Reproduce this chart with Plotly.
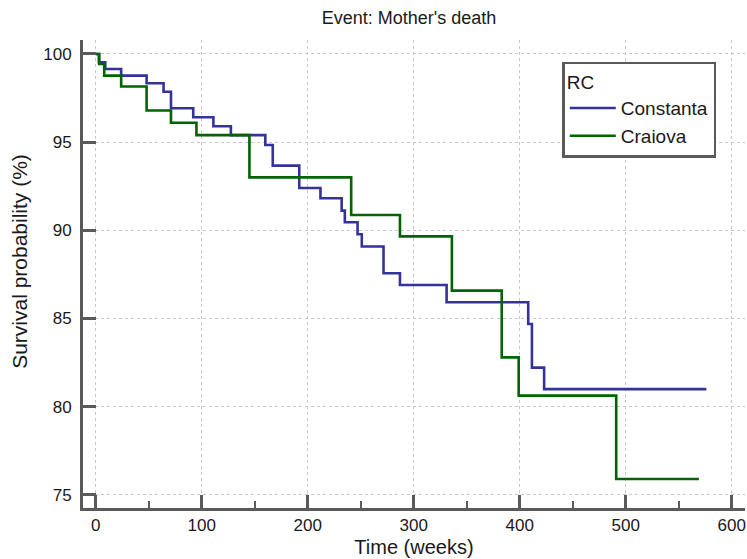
import plotly.graph_objects as go

# Kaplan-Meier step data (time in weeks, survival %)
constanta_time = [0, 3, 9, 24, 48, 64, 71, 92, 111, 127.5, 160, 167, 192, 212, 232, 235, 247, 251, 271.5, 287, 331, 408, 411.5, 423, 576]
constanta_surv = [100, 99.53, 99.15, 98.77, 98.34, 97.86, 96.92, 96.41, 95.9, 95.4, 94.84, 93.67, 92.4, 91.82, 91.12, 90.46, 89.78, 89.08, 87.57, 86.9, 85.92, 84.69, 82.22, 81.0, 81.0]

craiova_time = [0, 3.3, 8, 24, 48, 71, 95, 145, 241, 287, 336, 383, 399, 491, 569]
craiova_surv = [100, 99.43, 98.77, 98.15, 96.79, 96.1, 95.4, 93.0, 90.87, 89.66, 86.58, 82.8, 80.63, 75.9, 75.9]

x_ticks = [0, 100, 200, 300, 400, 500, 600]
x_minor_ticks = [50, 150, 250, 350, 450, 550]
y_ticks = [75, 80, 85, 90, 95, 100]

FONT = "Liberation Sans, Arial, sans-serif"
AXIS_COLOR = "#5a5a5a"
TXT = "#1a1a1a"

fig = go.Figure()
fig.add_trace(go.Scatter(x=constanta_time, y=constanta_surv, mode="lines", name="Constanta",
                         line=dict(color="#333399", width=2.6, shape="hv")))
fig.add_trace(go.Scatter(x=craiova_time, y=craiova_surv, mode="lines", name="Craiova",
                         line=dict(color="#006400", width=2.6, shape="hv")))

fig.update_layout(
    width=747, height=559,
    margin=dict(l=83, r=2, t=40, b=51, autoexpand=False),
    plot_bgcolor="white", paper_bgcolor="white",
    font=dict(family=FONT, size=17, color=TXT),
    title=dict(text="Event: Mother's death", x=0.5475, xanchor="center", y=0.968, yanchor="middle",
               font=dict(size=18, color=TXT)),
    legend=dict(title=dict(text="RC", font=dict(size=19)), x=0.724, y=0.953, xanchor="left", yanchor="top",
                bordercolor="#5a5a5a", borderwidth=2.5, bgcolor="white", font=dict(size=19),
                tracegroupgap=0, itemwidth=46),
    showlegend=True,
    annotations=[dict(text="Survival probability (%)", textangle=-90, xref="paper", yref="paper",
                      x=-0.0952, y=0.528, xanchor="center", yanchor="middle", showarrow=False,
                      font=dict(size=21, color=TXT))],
)

fig.update_xaxes(
    range=[-12, 612.5], tickvals=x_ticks, ticktext=[str(v) for v in x_ticks],
    showline=True, linecolor=AXIS_COLOR, linewidth=3, mirror=False,
    ticks="inside", ticklen=13, tickwidth=2.5, tickcolor=AXIS_COLOR,
    minor=dict(tickvals=x_minor_ticks, ticks="inside", ticklen=7, tickwidth=2, tickcolor=AXIS_COLOR, showgrid=False),
    showgrid=True, gridcolor="#c8c8c8", griddash="dot", gridwidth=1.2,
    zeroline=False, tickfont=dict(size=17),
    title=dict(text="Time (weeks)", font=dict(size=20), standoff=6),
    automargin=False,
)
fig.update_yaxes(
    range=[74.26, 100.79], tickvals=y_ticks, ticktext=[str(v) for v in y_ticks],
    showline=True, linecolor=AXIS_COLOR, linewidth=3, mirror=False,
    ticks="inside", ticklen=13, tickwidth=2.5, tickcolor=AXIS_COLOR,
    showgrid=True, gridcolor="#c8c8c8", griddash="dot", gridwidth=1.2,
    zeroline=False, tickfont=dict(size=17),
    ticklabelstandoff=5,
    automargin=False,
)

fig.write_html("out.html", config={"displayModeBar": False},
               post_script="document.body.style.margin='0';document.body.style.overflow='hidden';")
